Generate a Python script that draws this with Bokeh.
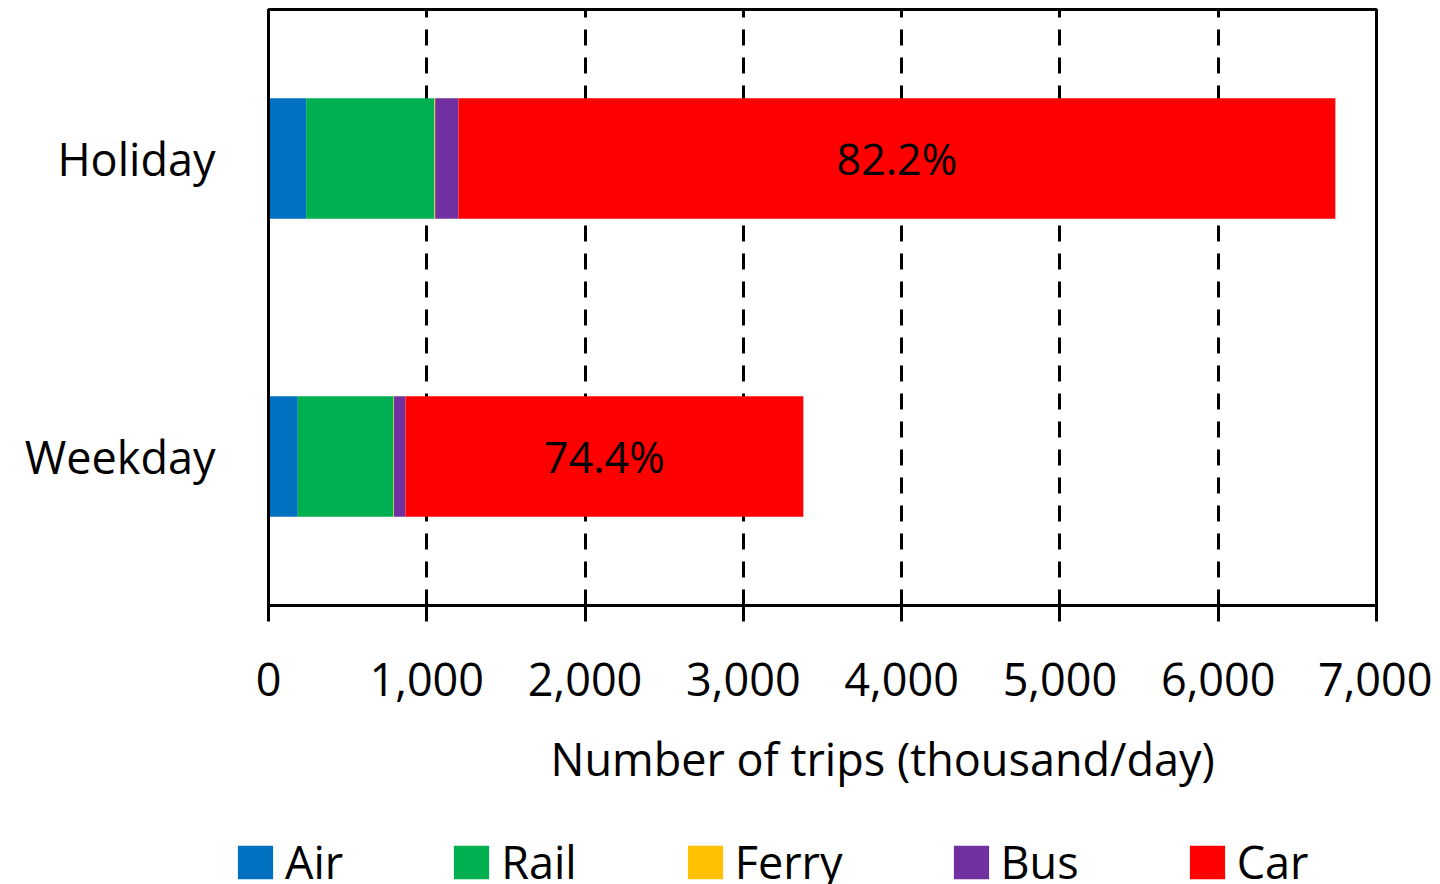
from bokeh.plotting import figure
from bokeh.layouts import column, row
from bokeh.models import (Range1d, FixedTicker, NumeralTickFormatter, Legend, LegendItem,
                          Title, ColumnDataSource)
from bokeh.core.properties import value
from bokeh.embed import file_html
from bokeh.resources import INLINE

# ---- data ----
categories = ["Weekday", "Holiday"]
modes = ["Air", "Rail", "Ferry", "Bus", "Car"]
air = [185, 238]
rail = [605, 810]
ferry = [3, 5]
bus = [72, 147]
car = [2514, 5540]
colors = ["#0070C0", "#00B050", "#FFC000", "#7030A0", "#FF0000"]
x_ticks = [0, 1000, 2000, 3000, 4000, 5000, 6000, 7000]

FONT = "Open Sans"

src = ColumnDataSource(dict(cat=categories, Air=air, Rail=rail, Ferry=ferry, Bus=bus, Car=car))

p = figure(y_range=categories, x_range=Range1d(0, 7000),
           frame_width=1108, frame_height=596,
           output_backend="svg", toolbar_location=None,
           min_border_left=268, min_border_right=56, min_border_top=9, min_border_bottom=225)

renderers = p.hbar_stack(modes, y="cat", height=0.405, color=colors, line_color=None, source=src)

# percentage labels on Car segment
starts = [a + r + f + b for a, r, f, b in zip(air, rail, ferry, bus)]
totals = [s + c for s, c in zip(starts, car)]
label_x = [s + c / 2 for s, c in zip(starts, car)]
label_txt = ["%.1f%%" % (100.0 * c / t) for c, t in zip(car, totals)]
p.text(x=label_x, y=categories, text=label_txt, text_align="center", text_baseline="middle",
       text_font=value(FONT), text_font_size="43px", text_color="black")

# axes
p.xaxis.ticker = FixedTicker(ticks=x_ticks)
p.xaxis.formatter = NumeralTickFormatter(format="0,0")
p.xaxis.major_label_text_font = FONT
p.xaxis.major_label_text_font_size = "45px"
p.xaxis.major_label_text_color = "black"
p.xaxis.major_label_standoff = 41
p.xaxis.axis_line_width = 3
p.xaxis.axis_line_color = "black"
p.xaxis.major_tick_line_width = 3
p.xaxis.major_tick_line_color = "black"
p.xaxis.major_tick_out = 16
p.xaxis.major_tick_in = 6
p.xaxis.minor_tick_line_color = None

p.yaxis.major_label_text_font = FONT
p.yaxis.major_label_text_font_size = "45px"
p.yaxis.major_label_text_color = "black"
p.yaxis.major_label_standoff = 47
p.yaxis.axis_line_width = 3
p.yaxis.axis_line_color = "black"
p.yaxis.major_tick_line_color = None
p.yaxis.minor_tick_line_color = None

p.xgrid.grid_line_color = "black"
p.xgrid.grid_line_dash = "16 12"
p.xgrid.grid_line_width = 3
p.ygrid.grid_line_color = None

p.outline_line_color = "black"
p.outline_line_width = 3

# axis title (shifted right as in the original)
t = Title(text="Number of trips (thousand/day)", align="left", offset=282,
          text_font=FONT, text_font_size="45px", text_font_style="normal",
          text_color="black", standoff=54)
p.add_layout(t, "below")

p.background_fill_color = "white"
p.border_fill_color = "white"

# ---- legend strip (separate figure below the chart) ----
lg = figure(width=1432, height=64, x_range=Range1d(0, 1), y_range=Range1d(0, 1),
            output_backend="svg", toolbar_location=None,
            x_axis_location=None, y_axis_location=None,
            min_border_left=0, min_border_right=0, min_border_top=0, min_border_bottom=0)
lg.grid.grid_line_color = None
lg.outline_line_color = None
lg.background_fill_color = "white"
lg.border_fill_color = "white"
# legend proxies: one bar per mode, placed outside the visible range
proxies = [lg.hbar(y=[5], left=[5], right=[6], height=0.5, color=c, line_color=None)
           for c in colors]
items = [LegendItem(label=m, renderers=[r]) for m, r in zip(modes, proxies)]
legend = Legend(items=items, orientation="horizontal", location=(233, 2),
                label_text_font=FONT, label_text_font_size="45px", label_text_color="black",
                glyph_width=44, glyph_height=42, spacing=106, label_standoff=8,
                padding=0, margin=0, border_line_color=None, background_fill_alpha=0)
lg.add_layout(legend, "center")

layout = column(p, row(lg), spacing=0)
open("out.html", "w").write(file_html(layout, INLINE))
